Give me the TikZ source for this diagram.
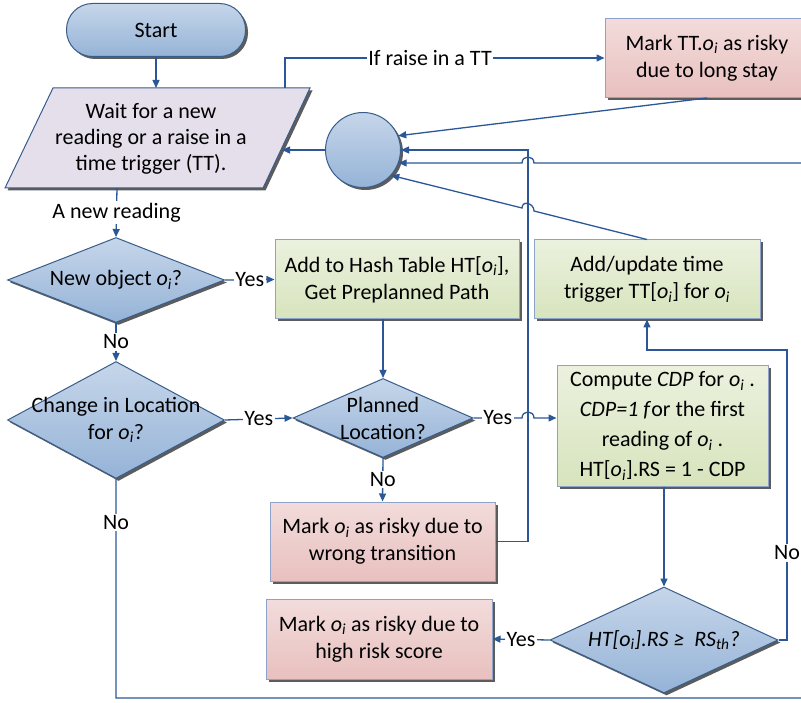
\documentclass[tikz,border=0pt]{standalone}
\usepackage{fontspec}
\setmainfont{Carlito}
\usepackage{tikz}
\usetikzlibrary{arrows.meta, shapes.geometric, shadows, positioning}
\definecolor{flowline}{HTML}{2B5797}
\definecolor{edgeblue}{HTML}{385D8A}
\definecolor{edgegray}{HTML}{8DA3C9}
\definecolor{blueA}{HTML}{C6D6EA}
\definecolor{blueB}{HTML}{95B3D7}
\definecolor{lavfill}{HTML}{E5DFEC}
\definecolor{greenA}{HTML}{EBF1DE}
\definecolor{greenB}{HTML}{D7E4BD}
\definecolor{pinkA}{HTML}{F2DCDB}
\definecolor{pinkB}{HTML}{E8C0BF}
\tikzset{>={Triangle[length=8pt,width=7pt]}}
\tikzset{
  boxshadow/.style={drop shadow={shadow xshift=2.5pt,shadow yshift=-2.5pt,fill=black!75,opacity=.85}},
  bluebox/.style={draw=edgeblue, line width=1pt, top color=blueA, bottom color=blueB, boxshadow},
  decision/.style={diamond, bluebox, inner sep=0pt},
  greenbox/.style={rectangle, draw=edgegray, line width=1pt, top color=greenA, bottom color=greenB, boxshadow, inner sep=0pt, align=center},
  pinkbox/.style={rectangle, draw=edgegray, line width=1pt, top color=pinkA, bottom color=pinkB, boxshadow, inner sep=0pt, align=center},
  txt/.style={align=center, inner sep=0pt},
  lbl/.style={fill=white, inner sep=1.5pt},
  link/.style={draw=flowline, line width=1.3pt},
}
\newcommand{\oi}{\textit{o\textsubscript{i}}}

\begin{document}
\begin{tikzpicture}[x=1pt, y=-1pt, font=\fontsize{22}{27}\selectfont]
\useasboundingbox (0,0) rectangle (801,703);
% shapes
\node[bluebox, rectangle, rounded corners=26pt, minimum width=179, minimum height=53] (start) at (156,30) {Start};
\path[draw=edgeblue, line width=1pt, fill=lavfill, boxshadow] (53,88) -- (310,88) -- (263,188) -- (5,188) -- cycle;
\node[txt, font=\fontsize{22}{26}\selectfont] (wait) at (151,139) {Wait for a new\\reading or a raise in a\\time trigger (TT).};
\coordinate (waitT) at (156,88);
\coordinate (waitTR) at (285,88);
\coordinate (waitR) at (282,150);
\coordinate (waitB) at (117,188);
\node[bluebox, circle, minimum size=75] (hub) at (363,150) {};
\node[pinkbox, minimum width=204, minimum height=79] (marktt) at (707,58) {Mark TT.\oi\ as risky\\due to long stay};

\node[decision, minimum width=217, minimum height=85] (newobj) at (116,280) {};
\node[txt] (newobjtxt) at (newobj) {New object \oi?};
\node[greenbox, minimum width=244, minimum height=79] (addht) at (397,279.5) {Add to Hash Table HT[\oi],\\Get Preplanned Path};
\node[greenbox, minimum width=226, minimum height=79] (addtt) at (647,279.5) {Add/update time\\trigger TT[\oi] for \oi};

\node[decision, minimum width=217, minimum height=117] (change) at (116,420) {};
\node[txt] (changetxt) at (change) {Change in Location\\for \oi?};
\node[decision, minimum width=180, minimum height=79] (planned) at (383,418) {};
\node[txt] (plannedtxt) at (planned) {Planned\\Location?};
\node[greenbox, minimum width=211, minimum height=120, font=\fontsize{22}{30}\selectfont] (compute) at (662.5,426) {Compute \textit{CDP} for \oi\ .\\\textit{CDP=1 f}or the first\\reading of \oi\ .\\HT[\oi].RS = 1 - CDP};
\node[pinkbox, minimum width=225, minimum height=79] (markwrong) at (382.5,541.5) {Mark \oi\ as risky due to\\wrong transition};

\node[decision, minimum width=228, minimum height=106] (htcheck) at (664,640) {};
\node[txt] (htchecktxt) at (htcheck) {\textit{HT[o\textsubscript{i}].RS ≥\ \ RS\textsubscript{th}?}};
\node[pinkbox, minimum width=226, minimum height=80] (markhigh) at (379,639) {Mark \oi\ as risky due to\\high risk score};

% connectors
\draw[link,->] (start.south) -- (waitT);
\draw[link,->] (waitTR) |- node[lbl,pos=.727] {If raise in a TT} (marktt.west);
\draw[link,->] (hub.west) -- (waitR);
\draw[link,->] (waitB) -- node[lbl] {A new reading} (newobj.north);
\draw[link,->] (marktt.south) -- (hub.22);
\draw[link,->] (markwrong.east) -| (528,150) -- (hub.east);
\draw[link,->] (change.south) -- node[lbl,pos=.2] {No} (116,698) -- (830,698) -- (830,163) -- (534,163)
  .. controls (534,155) and (522,155) .. (522,163) -- (hub.-20);
\draw[link,->] (addtt.north) -- (534,211) .. controls (534,203) and (522,200) .. (522,208) -- (hub.-42);
\draw[link,->] (newobj.east) -- node[lbl] {Yes} (addht.west);
\draw[link,->] (newobj.south) -- node[lbl] {No} (change.north);
\draw[link,->] (change.east) -- node[lbl] {Yes} (planned.west);
\draw[link,->] (planned.north |- addht.south) -- (planned.north);
\draw[link,->] (planned.east) -- node[lbl] {Yes} (522,418) .. controls (522,410) and (534,410) .. (534,418) -- (compute.west |- planned.east);
\draw[link,->] (planned.south) -- node[lbl] {No} (markwrong.north);
\draw[link,->] (compute.south -| htcheck.north) -- (htcheck.north);
\draw[link,->] (htcheck.west) -- node[lbl] {Yes} (markhigh.east);
\draw[link,->] (htcheck.east) -- (787,640) -- node[lbl,pos=.3] {No} (787,350) -| (addtt.south);
\end{tikzpicture}
\end{document}
